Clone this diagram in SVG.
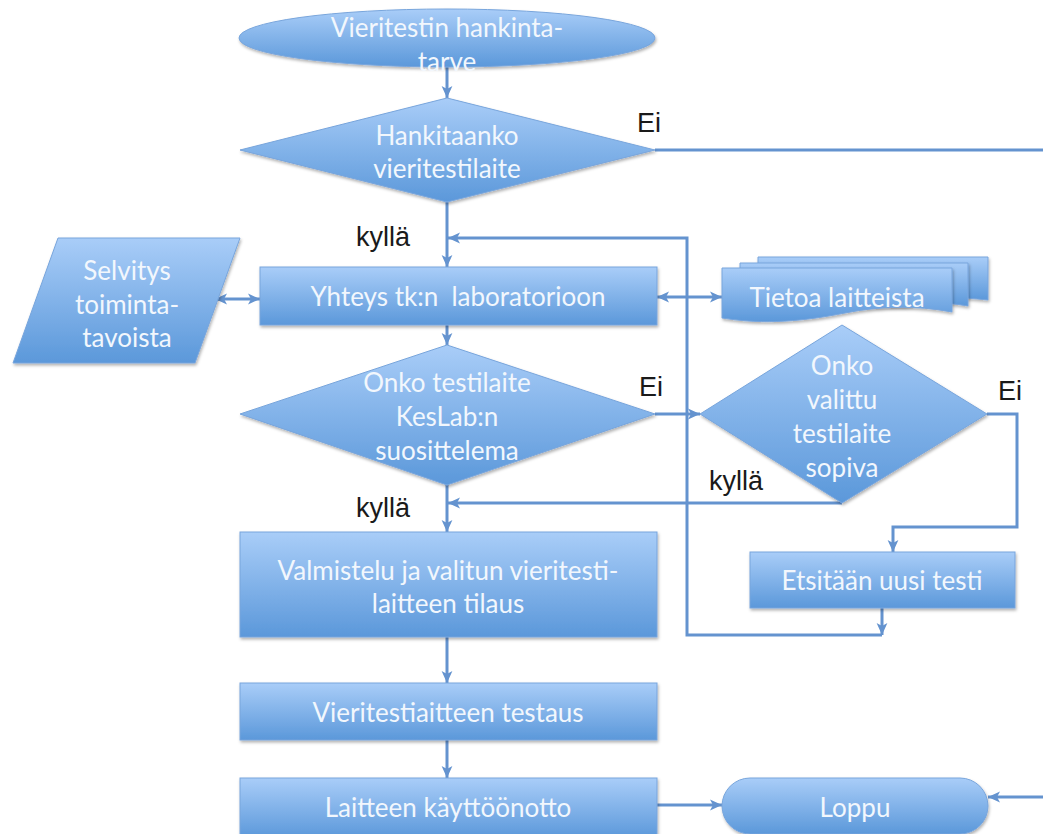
<svg xmlns="http://www.w3.org/2000/svg" width="1043" height="834" viewBox="0 0 1043 834">
<defs>
<linearGradient id="g" x1="0" y1="0" x2="0" y2="1">
<stop offset="0" stop-color="#a9cdf8"/>
<stop offset="1" stop-color="#5b98da"/>
</linearGradient>
<filter id="sh" x="-10%" y="-10%" width="120%" height="130%">
<feDropShadow dx="1" dy="2" stdDeviation="1.5" flood-color="#000" flood-opacity="0.3"/>
</filter>
<marker id="ah" viewBox="0 0 10 10" refX="10" refY="5" markerUnits="userSpaceOnUse" markerWidth="12" markerHeight="12" orient="auto-start-reverse">
<path d="M0,0.5 L10,5 L0,9.5 L2.5,5 Z" fill="#6493cf"/>
</marker>
<style>
.node{fill:url(#g);stroke:#78a5dc;stroke-width:1;filter:url(#sh)}
.lbl{font-family:Lato,"Open Sans","Liberation Sans",sans-serif;font-size:26px;fill:#f2f7fd;text-anchor:middle}
.blk{font-family:"Liberation Sans",Arial,sans-serif;font-size:27px;fill:#1a1a1a}
.conn{stroke:#6493cf;stroke-width:3;fill:none}
.arr{marker-end:url(#ah)}
.arr2{marker-start:url(#ah);marker-end:url(#ah)}
</style>
</defs>
<rect width="1043" height="834" fill="#ffffff"/>

<g id="connectors">
<path class="conn arr" d="M447,67 V98"/>
<path class="conn arr" d="M447,202 V267"/>
<path class="conn arr" d="M655,150 H1045 V797 H988"/>
<path class="conn arr" d="M882,608 V635"/>
<path class="conn arr" d="M882,635 H687 V238 H448"/>
<path class="conn arr2" d="M215,299 H260"/>
<path class="conn arr2" d="M657,297 H722"/>
<path class="conn arr" d="M447,325 V345"/>
<path class="conn arr" d="M655,414 H700"/>
<path class="conn arr" d="M842,503 H448"/>
<path class="conn arr" d="M987,414 H1017 V527 H893 V552"/>
<path class="conn arr" d="M447,485 V532"/>
<path class="conn arr" d="M447,637 V683"/>
<path class="conn arr" d="M447,740 V778"/>
<path class="conn arr" d="M657,805 H722"/>
</g>

<g id="n-start">
<ellipse class="node" cx="447" cy="38" rx="208" ry="29"/>
<text class="lbl" x="447" y="37">Vieritestin hankinta-</text>
<text class="lbl" x="447" y="71">tarve</text>
</g>

<g id="n-hankitaanko">
<polygon class="node" points="447,98 655,150 447,202 240,150"/>
<text class="lbl" x="447" y="145">Hankitaanko</text>
<text class="lbl" x="447" y="178">vieritestilaite</text>
</g>

<g id="n-selvitys">
<polygon class="node" points="58,238 240,238 195,363 13,363"/>
<text class="lbl" x="127" y="280">Selvitys</text>
<text class="lbl" x="127" y="314">toiminta-</text>
<text class="lbl" x="127" y="347">tavoista</text>
</g>

<g id="n-yhteys">
<rect class="node" x="260" y="267" width="397" height="58"/>
<text class="lbl" x="458" y="306" xml:space="preserve">Yhteys tk:n  laboratorioon</text>
</g>

<g id="n-tietoa">
<path class="node" d="M758,257 H988 V300 C960,297 940,297 925,300 L758,300 Z"/>
<path class="node" d="M740,263 H968 V306 C945,302 925,302 905,306 L740,306 Z"/>
<path class="node" d="M722,268 H952 V312 C915,305 880,306 845,313 C805,321 765,325 722,318 Z"/>
<text class="lbl" x="837" y="307">Tietoa laitteista</text>
</g>

<g id="n-onko-testilaite">
<polygon class="node" points="447,345 655,414 447,485 240,414"/>
<text class="lbl" x="447" y="392">Onko testilaite</text>
<text class="lbl" x="447" y="426">KesLab:n</text>
<text class="lbl" x="447" y="460">suosittelema</text>
</g>

<g id="n-onko-valittu">
<polygon class="node" points="842,325 987,414 842,503 700,414"/>
<text class="lbl" x="842" y="375">Onko</text>
<text class="lbl" x="842" y="409">valittu</text>
<text class="lbl" x="842" y="443">testilaite</text>
<text class="lbl" x="842" y="477">sopiva</text>
</g>

<g id="n-etsitaan">
<rect class="node" x="750" y="552" width="265" height="56"/>
<text class="lbl" x="882" y="590">Etsitään uusi testi</text>
</g>

<g id="n-valmistelu">
<rect class="node" x="240" y="532" width="417" height="105"/>
<text class="lbl" x="448" y="580">Valmistelu ja valitun vieritesti-</text>
<text class="lbl" x="448" y="613">laitteen tilaus</text>
</g>

<g id="n-testaus">
<rect class="node" x="240" y="683" width="417" height="57"/>
<text class="lbl" x="448" y="722">Vieritestiaitteen testaus</text>
</g>

<g id="n-kayttoonotto">
<rect class="node" x="240" y="778" width="417" height="60"/>
<text class="lbl" x="448" y="817">Laitteen käyttöönotto</text>
</g>

<g id="n-loppu">
<rect class="node" x="722" y="778" width="266" height="56" rx="28"/>
<text class="lbl" x="855" y="817">Loppu</text>
</g>

<g id="labels">
<text class="blk" x="637" y="132">Ei</text>
<text class="blk" x="356" y="246">kyllä</text>
<text class="blk" x="639" y="396">Ei</text>
<text class="blk" x="998" y="400">Ei</text>
<text class="blk" x="709" y="490">kyllä</text>
<text class="blk" x="356" y="517">kyllä</text>
</g>
</svg>
